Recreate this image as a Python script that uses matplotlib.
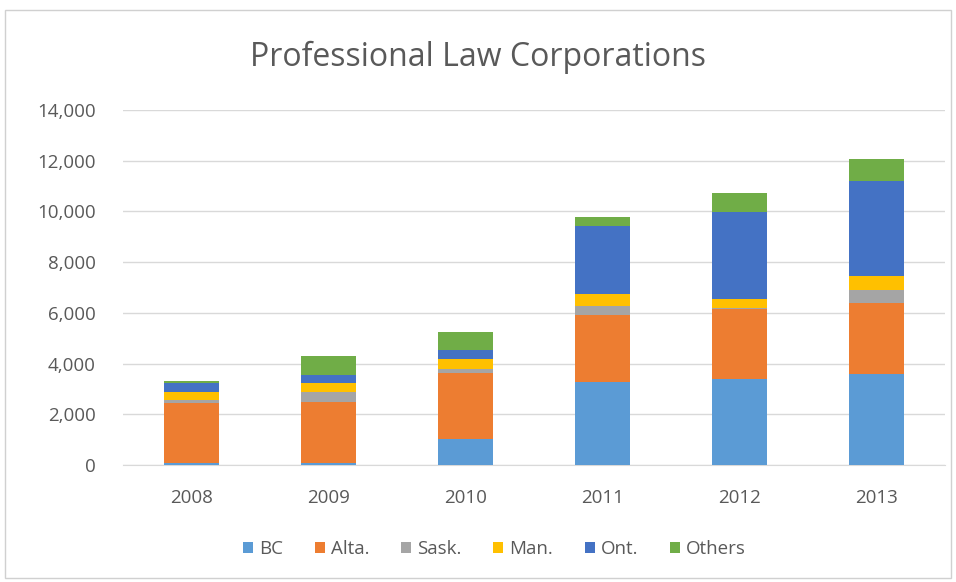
import numpy as np
import matplotlib.pyplot as plt
from matplotlib.patches import Rectangle

years = ['2008', '2009', '2010', '2011', '2012', '2013']
series = ['BC', 'Alta.', 'Sask.', 'Man.', 'Ont.', 'Others']
bc = [60, 60, 1030, 3270, 3390, 3600]
alta = [2370, 2430, 2600, 2640, 2750, 2770]
sask = [130, 400, 150, 380, 60, 550]
man = [330, 330, 400, 440, 350, 530]
ont = [330, 330, 370, 2680, 3420, 3760]
others = [100, 760, 710, 360, 760, 860]
colors = ['#5B9BD5', '#ED7D31', '#A5A5A5', '#FFC000', '#4472C4', '#70AD47']

plt.rcParams['font.family'] = ['Open Sans', 'DejaVu Sans']

fig = plt.figure(figsize=(9.56, 5.82), dpi=100)
fig.patches.append(Rectangle((5 / 956, 4 / 582), 946 / 956, 568 / 582,
                             transform=fig.transFigure, fill=False,
                             edgecolor='#D0D0D0', linewidth=1))
ax = fig.add_axes([0.129, 0.201, 0.8595, 0.61])

x = np.arange(len(years))
bottom = np.zeros(len(years))
for name, vals, c in zip(series, [bc, alta, sask, man, ont, others], colors):
    ax.bar(x, vals, width=0.4, bottom=bottom, color=c, label=name, zorder=3)
    bottom += np.array(vals)

ax.set_xlim(-0.5, 5.5)
ax.set_ylim(0, 14000)
ax.set_yticks(np.arange(0, 14001, 2000))
ax.set_yticklabels([f'{v:,}' for v in range(0, 14001, 2000)])
ax.set_xticks(x)
ax.set_xticklabels(years)
ax.yaxis.grid(True, color='#D9D9D9', linewidth=1, zorder=0)
ax.tick_params(axis='both', length=0, labelsize=13.5, labelcolor='#595959')
ax.tick_params(axis='y', pad=20)
ax.tick_params(axis='x', pad=17)
for s in ['top', 'right', 'left']:
    ax.spines[s].set_visible(False)
ax.spines['bottom'].set_color('#D9D9D9')

fig.text(0.5, 0.902, 'Professional Law Corporations', ha='center', va='center',
         fontsize=23, color='#595959')

leg = fig.legend(loc='center', bbox_to_anchor=(0.517, 0.056), ncol=6,
                 frameon=False, fontsize=13.5, handlelength=0.55, handleheight=0.55,
                 handletextpad=0.3, columnspacing=1.7)
for t in leg.get_texts():
    t.set_color('#595959')

fig.savefig('out.png', dpi=100)
